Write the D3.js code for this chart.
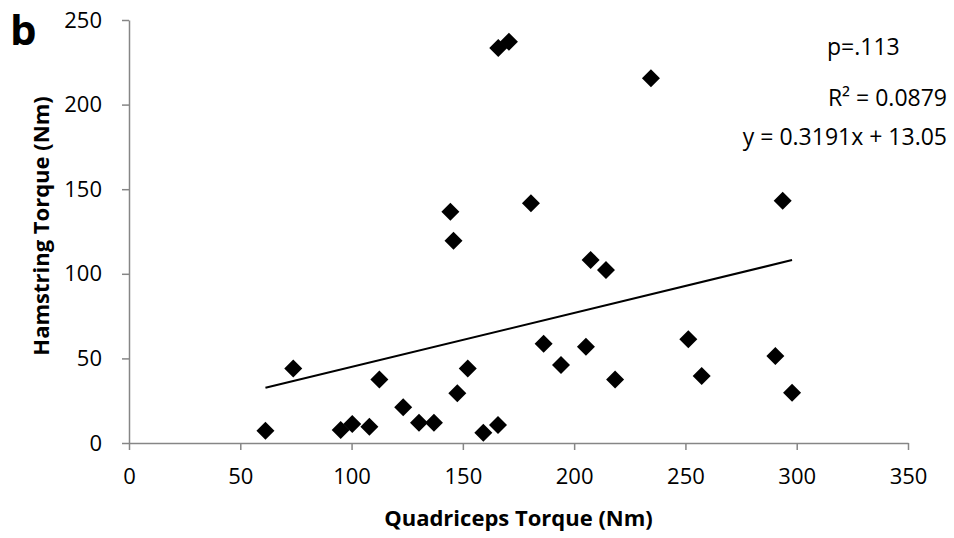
<!DOCTYPE html>
<html>
<head>
<meta charset="utf-8">
<script src="https://cdn.jsdelivr.net/npm/d3@7"></script>
<style>
  html, body { margin: 0; padding: 0; background: #fff; }
  svg { display: block; }
  text { font-family: "Open Sans", "Liberation Sans", sans-serif; fill: #000; }
</style>
</head>
<body>
<svg id="chart" width="954" height="538"></svg>
<script>
// Data
const quadriceps = [61.3, 73.8, 95.1, 100.3, 108.0, 112.5, 123.2, 130.3, 137.0, 144.4,
                    145.8, 147.5, 152.2, 159.2, 165.8, 165.9, 170.7, 180.6, 186.3, 194.1,
                    205.3, 207.4, 214.3, 218.4, 234.5, 251.3, 257.3, 290.4, 293.7, 297.9];
const hamstring  = [7.2, 44.0, 7.7, 11.2, 9.6, 37.6, 21.1, 12.0, 12.0, 136.7,
                    119.6, 29.4, 44.1, 6.1, 10.6, 233.4, 237.2, 141.7, 58.7, 46.1,
                    56.9, 108.2, 102.2, 37.6, 215.5, 61.3, 39.6, 51.4, 143.2, 29.7];
const xTicks = [0, 50, 100, 150, 200, 250, 300, 350];
const yTicks = [0, 50, 100, 150, 200, 250];
const trendSlope = 0.3191;
const trendIntercept = 13.05;
const annotations = ["p=.113", "R\u00B2 = 0.0879", "y = 0.3191x + 13.05"];
const panelLabel = "b";
const xTitle = "Quadriceps Torque (Nm)";
const yTitle = "Hamstring Torque (Nm)";

const svg = d3.select("#chart");
const x = d3.scaleLinear().domain([0, 350]).range([129, 908]);
const y = d3.scaleLinear().domain([0, 250]).range([443, 20]);
const axisColor = "#868686";

// X axis
const gx = svg.append("g").attr("transform", `translate(0,${y(0)})`)
  .call(d3.axisBottom(x).tickValues(xTicks).tickSize(7).tickSizeOuter(0).tickPadding(18).tickFormat(d3.format("d")));
// Y axis
const gy = svg.append("g").attr("transform", `translate(${x(0)},0)`)
  .call(d3.axisLeft(y).tickValues(yTicks).tickSize(7).tickSizeOuter(0).tickPadding(20).tickFormat(d3.format("d")));

[gx, gy].forEach(g => {
  g.select(".domain").attr("stroke", axisColor).attr("stroke-width", 1.5);
  g.selectAll(".tick line").attr("stroke", axisColor).attr("stroke-width", 1.5);
  g.selectAll(".tick text").attr("font-size", 22).attr("fill", "#000")
    .style("font-family", '"Open Sans", sans-serif');
});

// Trend line
const xMin = d3.min(quadriceps), xMax = d3.max(quadriceps);
svg.append("line")
  .attr("x1", x(xMin)).attr("y1", y(trendSlope * xMin + trendIntercept))
  .attr("x2", x(xMax)).attr("y2", y(trendSlope * xMax + trendIntercept))
  .attr("stroke", "#000").attr("stroke-width", 2);

// Points (diamonds)
const pts = quadriceps.map((q, i) => ({ q, h: hamstring[i] }));
const sym = d3.symbol().type(d3.symbolSquare).size(162);
svg.append("g").selectAll("path").data(pts).join("path")
  .attr("d", sym)
  .attr("transform", d => `translate(${x(d.q)},${y(d.h)}) rotate(45)`)
  .attr("fill", "#000");

// Axis titles
svg.append("text").attr("x", (x.range()[0] + x.range()[1]) / 2).attr("y", 526).attr("text-anchor", "middle")
  .attr("font-size", 22).attr("font-weight", "bold").text(xTitle);
svg.append("text").attr("transform", `translate(49,226) rotate(-90)`).attr("text-anchor", "middle")
  .attr("font-size", 22).attr("font-weight", "bold").text(yTitle);

// Panel label
svg.append("text").attr("x", 10).attr("y", 45).attr("font-size", 42).attr("font-weight", "bold").text(panelLabel);

// Annotations
svg.append("text").attr("x", 827).attr("y", 55).attr("font-size", 23).text(annotations[0]);
svg.append("text").attr("x", 947).attr("y", 106).attr("text-anchor", "end").attr("font-size", 23).text(annotations[1]);
svg.append("text").attr("x", 947).attr("y", 145).attr("text-anchor", "end").attr("font-size", 23).text(annotations[2]);
</script>
</body>
</html>
